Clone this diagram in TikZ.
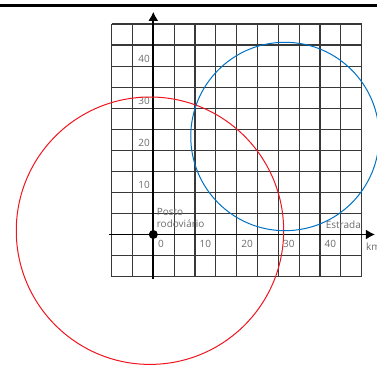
\documentclass[tikz,border=0pt]{standalone}
\usepackage{fontspec}
\setmainfont{Open Sans}
\usetikzlibrary{arrows.meta}
\definecolor{azul}{RGB}{0,114,198}
\definecolor{vermelho}{RGB}{240,20,30}
\begin{document}
\begin{tikzpicture}[
  x=4.1667pt, y=4.21pt,
  rede/.style={draw=black!78, line width=1.1pt},
  eixo/.style={line width=1.6pt, -{Latex[length=9pt,width=10pt]}},
  rotulo/.style={font=\fontsize{10}{12}\selectfont, text=black!58, inner sep=0pt},
  ponto/.style={circle, fill=black, minimum size=9pt, inner sep=0pt}
]
  \useasboundingbox (-36.79,-31.05) rectangle (53.69,55.7);
  \coordinate (esq) at (-36.79,54.44);
  \coordinate (dir) at (53.69,54.44);
  \draw[line width=2.7pt] (esq) -- (dir);
  % malha
  \foreach \k in {-10,-5,...,50} {
    \draw[rede] (\k,-10) -- (\k,50);
    \draw[rede] (-10,\k) -- (50,\k);
  }
  % eixos
  \coordinate (ybase) at (0,-10.6);
  \coordinate (ytopo) at (0,52.9);
  \coordinate (xbase) at (-10.6,0);
  \coordinate (xtopo) at (53.2,0);
  \draw[eixo] (ybase) -- (ytopo);
  \draw[eixo] (xbase) -- (xtopo);
  \node[ponto] (posto) at (0,0) {};
  % rotulos
  \foreach \v in {10,20,30,40}
    \node[rotulo, anchor=south east] (y\v) at (-0.8,\v+0.85) {\v};
  \foreach \v in {0,10,20,30,40}
    \node[rotulo, anchor=north west] (x\v) at (\v+1.1,-1.3) {\v};
  \node[rotulo, anchor=south west, align=left] (nomeposto) at (0.8,1.6) {Posto\\rodoviário};
  \node[rotulo, anchor=base east] (estrada) at (49.85,1.5) {Estrada};
  \node[rotulo, anchor=base west] (km) at (51.05,-3.7) {km};
  % circulos
  \draw[vermelho, line width=1pt] (-0.8,0.9) circle[radius=133.7pt];
  \draw[azul, line width=1pt] (31.6,23.28) circle[radius=94.2pt];
\end{tikzpicture}
\end{document}
